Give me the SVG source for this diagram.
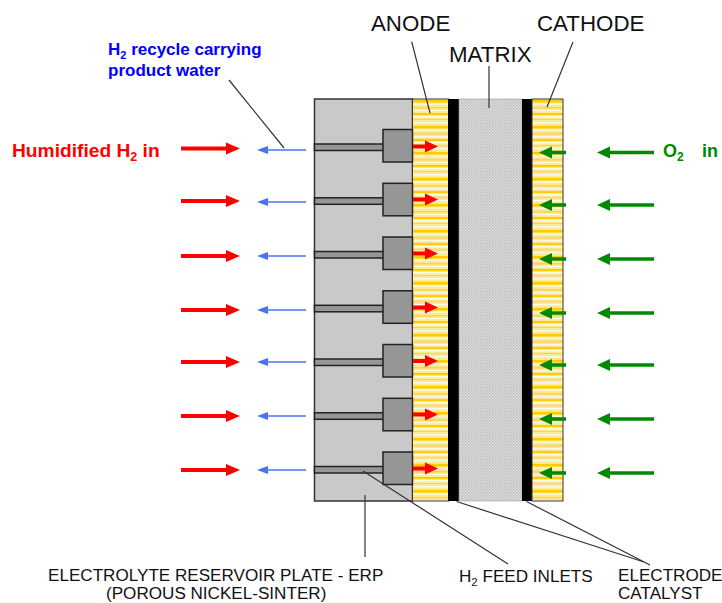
<svg xmlns="http://www.w3.org/2000/svg" width="722" height="603" viewBox="0 0 722 603">
<style>
text{font-family:"Liberation Sans",Arial,sans-serif}
.lbl{fill:#111;font-size:17.100px}
.big{fill:#111;font-size:22.300px}
.h{font-weight:bold;font-size:19.200px;fill:#f00}
.b{font-weight:bold;font-size:17px;fill:#00f}
.g{font-weight:bold;font-size:18px;fill:#080}
.lead{stroke:#333;stroke-width:1.2;fill:none}
.red{stroke:#f00;stroke-width:4;fill:none}
.redh{fill:#f00}
.grn{stroke:#080;stroke-width:3.5;fill:none}
.grnh{fill:#080}
.blu{stroke:#4a74ee;stroke-width:1.3;fill:none}
.bluh{fill:#4a74ee}
.feed{fill:#969696;stroke:#222;stroke-width:1.5}
.blk{fill:#969696;stroke:#222;stroke-width:1.5}
</style>
<defs>
<pattern id="y" width="10" height="26" patternUnits="userSpaceOnUse" y="100">
<rect width="10" height="26" fill="#ffe893"/>
<rect y="0" width="10" height="2.500" fill="#ffcc00"/>
<rect y="3.500" width="10" height="1.200" fill="#fffbe8"/>
<rect y="7" width="10" height="1.500" fill="#ffd740"/>
<rect y="10" width="10" height="1.200" fill="#fffbe8"/>
<rect y="13" width="10" height="2" fill="#ffcc00"/>
<rect y="16" width="10" height="1.500" fill="#fffbe8"/>
<rect y="19" width="10" height="1" fill="#ffd740"/>
<rect y="22" width="10" height="1.500" fill="#fffbe8"/>
</pattern>
<pattern id="m" width="3" height="3" patternUnits="userSpaceOnUse">
<rect width="3" height="3" fill="#dcdcdc"/>
<rect width="1.500" height="1.500" fill="#bdbdbd"/>
<rect x="1.500" y="1.500" width="1.500" height="1.500" fill="#c8c8c8"/>
</pattern>
<g id="ra"><path class="red" d="M0 0H47"/><path class="redh" d="M45 -6L59 0L45 6Z"/></g>
<g id="ri"><path class="red" d="M0 0H14"/><path class="redh" d="M12 -6L25 0L12 6Z"/></g>
<g id="ga"><path class="grn" d="M57 0H10"/><path class="grnh" d="M0 0L13 -6V6Z"/></g>
<g id="gi"><path class="grn" d="M27 0H10"/><path class="grnh" d="M0 0L13 -6V6Z"/></g>
<g id="ba"><path class="blu" d="M49 0H8"/><path class="bluh" d="M0 0L11 -4V4Z"/></g>
<g id="inlet"><rect class="feed" x="314.500" y="11.500" width="69" height="6.500"/><rect class="blk" x="383" y="-3" width="29.500" height="32.500"/></g>
</defs>

<g id="plate"><rect x="314.500" y="99" width="98" height="402" fill="#c9c9c9" stroke="#333" stroke-width="1.500"/></g>
<g id="anode"><rect x="412.500" y="99" width="36" height="402" fill="url(#y)" stroke="#333" stroke-width="1"/></g>
<g id="catalyst-a"><rect x="448" y="99" width="11" height="402" fill="#000"/></g>
<g id="matrix"><rect x="459" y="99" width="63" height="402" fill="url(#m)" stroke="#999" stroke-width="0.600"/></g>
<g id="catalyst-c"><rect x="522" y="99" width="10" height="402" fill="#000"/></g>
<g id="cathode"><rect x="532" y="99" width="31" height="402" fill="url(#y)" stroke="#333" stroke-width="1"/></g>

<g id="inlets">
<use href="#inlet" y="132.500"/><use href="#inlet" y="186.300"/><use href="#inlet" y="240"/><use href="#inlet" y="293.800"/><use href="#inlet" y="347.500"/><use href="#inlet" y="401.300"/><use href="#inlet" y="455"/>
</g>

<g id="connectors">
<g id="red-in">
<use href="#ra" x="181" y="148.500"/><use href="#ra" x="181" y="201"/><use href="#ra" x="181" y="256"/><use href="#ra" x="181" y="310"/><use href="#ra" x="181" y="362"/><use href="#ra" x="181" y="416"/><use href="#ra" x="181" y="470"/>
<use href="#ri" x="413" y="146.500"/><use href="#ri" x="413" y="199.500"/><use href="#ri" x="413" y="253.500"/><use href="#ri" x="413" y="307.500"/><use href="#ri" x="413" y="361"/><use href="#ri" x="413" y="414.500"/><use href="#ri" x="413" y="468.500"/>
</g>
<g id="blue-out">
<use href="#ba" x="257" y="150"/><use href="#ba" x="257" y="202"/><use href="#ba" x="257" y="256"/><use href="#ba" x="257" y="310"/><use href="#ba" x="257" y="362"/><use href="#ba" x="257" y="416"/><use href="#ba" x="257" y="470"/>
</g>
<g id="green-in">
<use href="#ga" x="597" y="152.500"/><use href="#ga" x="597" y="205"/><use href="#ga" x="597" y="259"/><use href="#ga" x="597" y="313"/><use href="#ga" x="597" y="365"/><use href="#ga" x="597" y="419"/><use href="#ga" x="597" y="473"/>
<use href="#gi" x="539" y="152.500"/><use href="#gi" x="539" y="205"/><use href="#gi" x="539" y="259"/><use href="#gi" x="539" y="313"/><use href="#gi" x="539" y="365"/><use href="#gi" x="539" y="419"/><use href="#gi" x="539" y="473"/>
</g>
<g id="leaders">
<path class="lead" d="M229 80L284 148"/>
<path class="lead" d="M411.700 41.700L430 113"/>
<path class="lead" d="M489 66V108"/>
<path class="lead" d="M573 42L547 107"/>
<path class="lead" d="M365 495V557"/>
<path class="lead" d="M363 471L508 564"/>
<path class="lead" d="M456.500 501.500L644 562"/>
<path class="lead" d="M526.500 501.500L650 565"/>
</g>
</g>

<g id="labels">
<text class="big" x="371" y="31">ANODE</text>
<text class="big" x="449" y="61.500">MATRIX</text>
<text class="big" x="537" y="31">CATHODE</text>
<text class="b" x="108" y="55">H<tspan font-size="11" dy="4">2</tspan><tspan dy="-4"> recycle carrying</tspan></text>
<text class="b" x="108" y="76">product water</text>
<text class="h" x="12" y="157">Humidified H<tspan font-size="12.500" dy="4">2</tspan><tspan dy="-4"> in</tspan></text>
<text class="g" x="663" y="157">O<tspan font-size="12" dy="4">2</tspan></text>
<text class="g" x="702" y="157">in</text>
<text class="lbl" x="48" y="580.500">ELECTROLYTE RESERVOIR PLATE - ERP</text>
<text class="lbl" x="106" y="599">(POROUS NICKEL-SINTER)</text>
<text class="lbl" x="459" y="582">H<tspan font-size="11.500" dy="4">2</tspan><tspan dy="-4"> FEED INLETS</tspan></text>
<text class="lbl" x="618" y="580.500">ELECTRODE</text>
<text class="lbl" x="618" y="599">CATALYST</text>
</g>
</svg>
